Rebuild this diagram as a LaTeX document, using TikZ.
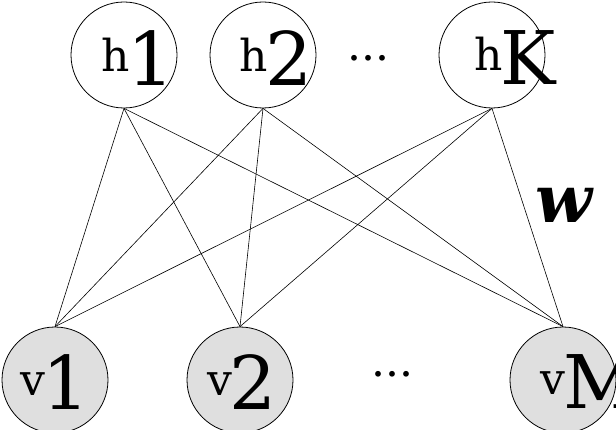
\documentclass[tikz,border=0pt]{standalone}
\usepackage{fontspec}
\setmainfont{DejaVu Serif}
\usetikzlibrary{positioning}
\tikzset{
  unit/.style={circle, draw, thick, minimum size=106pt, inner sep=0pt},
  hid/.style={unit, fill=white},
  vis/.style={unit, fill=gray!25},
  lab/.style={font=\fontsize{44}{44}\selectfont},
  big/.style={font=\fontsize{66}{66}\selectfont}
}
\newcommand{\unitlab}[2]{\raisebox{14pt}{#1}\hspace{-2pt}{\fontsize{74}{74}\selectfont #2}}
\begin{document}
\begin{tikzpicture}[x=1pt, y=-1pt]
    \useasboundingbox (0,0) rectangle (616,430);
    % Hidden units
    \node[hid] (h1) at (124,55) {};
    \node[hid] (h2) at (263,55) {};
    \node[hid] (hK) at (492,55) {};
    % Visible units
    \node[vis] (v1) at (55,380) {};
    \node[vis] (v2) at (240,380) {};
    \node[vis] (vM) at (563,380) {};
    % Weights
    \foreach \h in {h1,h2,hK} {
        \foreach \v in {v1,v2,vM} {
            \draw[semithick] (\h.south) -- (\v.north);
        }
    }
    % Labels
    \node[lab] (th1) at (138,58) {\unitlab{h}{1}};
    \node[lab] (th2) at (276,58) {\unitlab{h}{2}};
    \node[lab] (thK) at (515,58) {\unitlab{h}{K}};
    \node[lab] (tv1) at (55,382) {\unitlab{v}{1}};
    \node[lab] (tv2) at (242,382) {\unitlab{v}{2}};
    \node[lab] (tvM) at (590,382) {\unitlab{v}{M}};
    \node[lab] (dh) at (368,58) {...};
    \node[lab] (dv) at (392,374) {...};
    \node[big] (w) at (565,205) {\textbf{\textit{w}}};
\end{tikzpicture}
\end{document}
